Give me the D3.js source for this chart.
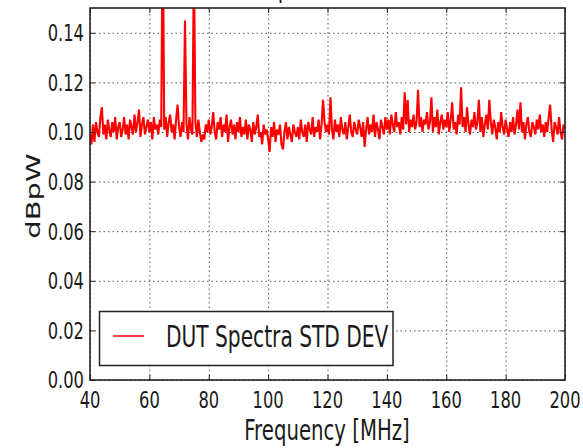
<!DOCTYPE html>
<html><head><meta charset="utf-8">
<script src="https://cdn.jsdelivr.net/npm/d3@7"></script>
<style>
body{margin:0;background:#fff}
svg{display:block}
text{font-family:"DejaVu Sans","Bitstream Vera Sans",sans-serif;fill:#1a1a1a}
</style>
</head><body>
<svg id="chart" width="583" height="448"></svg>
<script>
const chartTitle = "DUT Spectra STD DEV";
const xAxisLabel = "Frequency [MHz]";
const yAxisLabel = "dBpW";
const seriesName = "DUT Spectra STD DEV";
const xTickValues = [40, 60, 80, 100, 120, 140, 160, 180, 200];
const yTickValues = [0.00, 0.02, 0.04, 0.06, 0.08, 0.10, 0.12, 0.14];
const freqStartMHz = 40;
const freqStepMHz = 0.5;
// std-dev values (dBpW), one every 0.5 MHz from 40 to 200 MHz
const stdDevDbpw = [
0.099,0.095,0.103,0.096,0.104,0.100,0.098,0.106,0.110,0.099,0.103,0.097,0.105,0.101,0.098,0.104,0.100,0.106,0.097,0.102,
0.104,0.098,0.101,0.106,0.099,0.103,0.097,0.105,0.102,0.099,0.107,0.100,0.104,0.109,0.098,0.103,0.106,0.099,0.102,0.105,
0.100,0.104,0.097,0.106,0.101,0.103,0.099,0.105,0.102,0.190,0.101,0.106,0.098,0.104,0.107,0.100,0.103,0.097,0.105,0.111,
0.102,0.098,0.104,0.100,0.145,0.103,0.097,0.106,0.101,0.099,0.170,0.104,0.098,0.105,0.100,0.096,0.099,0.097,0.103,0.100,
0.105,0.099,0.102,0.108,0.100,0.097,0.104,0.101,0.106,0.098,0.103,0.100,0.107,0.096,0.102,0.105,0.099,0.103,0.097,0.104,
0.100,0.106,0.098,0.102,0.099,0.105,0.097,0.103,0.101,0.096,0.104,0.099,0.102,0.107,0.098,0.100,0.095,0.103,0.099,0.101,
0.097,0.092,0.102,0.098,0.104,0.096,0.101,0.099,0.103,0.095,0.093,0.100,0.104,0.097,0.102,0.099,0.096,0.103,0.100,0.098,
0.102,0.097,0.105,0.100,0.098,0.103,0.096,0.104,0.101,0.099,0.106,0.098,0.102,0.100,0.105,0.097,0.103,0.113,0.104,0.100,
0.103,0.099,0.114,0.101,0.097,0.105,0.100,0.103,0.098,0.106,0.101,0.099,0.104,0.097,0.102,0.107,0.100,0.098,0.104,0.101,
0.099,0.105,0.102,0.098,0.104,0.094,0.101,0.106,0.099,0.103,0.100,0.107,0.098,0.104,0.101,0.097,0.105,0.102,0.099,0.106,
0.101,0.105,0.099,0.107,0.103,0.100,0.108,0.102,0.104,0.099,0.106,0.101,0.116,0.103,0.113,0.100,0.105,0.102,0.107,0.101,
0.104,0.117,0.102,0.106,0.100,0.105,0.103,0.108,0.101,0.104,0.114,0.100,0.106,0.102,0.109,0.099,0.104,0.107,0.101,0.105,
0.102,0.108,0.100,0.105,0.112,0.101,0.104,0.099,0.107,0.103,0.118,0.102,0.106,0.100,0.110,0.103,0.099,0.105,0.102,0.108,
0.101,0.104,0.113,0.100,0.106,0.098,0.103,0.107,0.101,0.113,0.104,0.099,0.105,0.102,0.097,0.104,0.100,0.108,0.102,0.099,
0.105,0.101,0.098,0.104,0.100,0.106,0.099,0.103,0.109,0.101,0.112,0.100,0.104,0.097,0.103,0.106,0.100,0.098,0.104,0.102,
0.099,0.105,0.101,0.107,0.100,0.103,0.098,0.104,0.100,0.106,0.111,0.101,0.096,0.104,0.102,0.099,0.106,0.100,0.097,0.103,0.101
];

const plot = {left: 90, right: 565, top: 8, bottom: 380};
const k = 0.68; // horizontal squeeze of the glyphs

const svg = d3.select("#chart");
const x = d3.scaleLinear().domain([40, 200]).range([plot.left, plot.right]);
const y = d3.scaleLinear().domain([0, 0.15]).range([plot.bottom, plot.top]);
const W = plot.right - plot.left, H = plot.bottom - plot.top;

svg.append("defs").append("clipPath").attr("id", "clip")
  .append("rect").attr("x", plot.left).attr("y", plot.top).attr("width", W).attr("height", H);

// grid
const gx = svg.append("g").attr("transform", `translate(0,${plot.bottom})`)
  .call(d3.axisBottom(x).tickValues(xTickValues).tickSize(-H).tickFormat(""));
const gy = svg.append("g").attr("transform", `translate(${plot.left},0)`)
  .call(d3.axisLeft(y).tickValues(yTickValues).tickSize(-W).tickFormat(""));
[gx, gy].forEach(g => {
  g.select(".domain").remove();
  g.selectAll(".tick line").attr("stroke", "#555").attr("stroke-width", 1).attr("stroke-dasharray", "1.5,3");
});

// data line
const data = stdDevDbpw.map((v, i) => ({f: freqStartMHz + i * freqStepMHz, v}));
svg.append("path").datum(data)
  .attr("clip-path", "url(#clip)")
  .attr("fill", "none").attr("stroke", "#ff0000").attr("stroke-width", 2.1)
  .attr("stroke-linejoin", "miter")
  .attr("d", d3.line().x(d => x(d.f)).y(d => y(d.v)));

// inward ticks on all sides
const tl = 5;
const axes = [
  [d3.axisBottom(x).tickValues(xTickValues), `translate(0,${plot.bottom})`],
  [d3.axisTop(x).tickValues(xTickValues), `translate(0,${plot.top})`],
  [d3.axisLeft(y).tickValues(yTickValues), `translate(${plot.left},0)`],
  [d3.axisRight(y).tickValues(yTickValues), `translate(${plot.right},0)`]
];
axes.forEach(([ax, tr]) => {
  const g = svg.append("g").attr("transform", tr).call(ax.tickSize(-tl).tickFormat(""));
  g.select(".domain").remove();
  g.selectAll(".tick line").attr("stroke", "#222").attr("stroke-width", 1);
});

// frame
svg.append("rect").attr("x", plot.left).attr("y", plot.top).attr("width", W).attr("height", H)
  .attr("fill", "none").attr("stroke", "#222").attr("stroke-width", 1.6);

function label(txt, px, py, size, anchor, sx, extra) {
  return svg.append("text")
    .attr("transform", `translate(${px},${py}) scale(${sx},1)` + (extra || ""))
    .attr("text-anchor", anchor).attr("font-size", size).text(txt);
}

// tick labels
yTickValues.forEach(v => label(d3.format(".2f")(v), 84, y(v) + 8.3, 23.5, "end", k * 24 / 23.5));
xTickValues.forEach(v => label(String(v), x(v), 408, 23.5, "middle", k * 24 / 23.5));

// axis labels
label(xAxisLabel, 327, 439.5, 28, "middle", k * 29 / 28);
label(yAxisLabel, 40, 196, 29, "middle", k, " rotate(-90)");

// title (mostly above the visible area, as in the source image)
label(chartTitle, 327, -3, 29.7, "middle", k);

// legend
svg.append("rect").attr("x", 99.5).attr("y", 311.5).attr("width", 293.5).attr("height", 54)
  .attr("fill", "#fff").attr("stroke", "#222").attr("stroke-width", 1.5);
svg.append("line").attr("x1", 113).attr("x2", 144).attr("y1", 336).attr("y2", 336)
  .attr("stroke", "#ff0000").attr("stroke-width", 1.5);
label(seriesName, 166, 346.5, 29.7, "start", k);
</script>
</body></html>
